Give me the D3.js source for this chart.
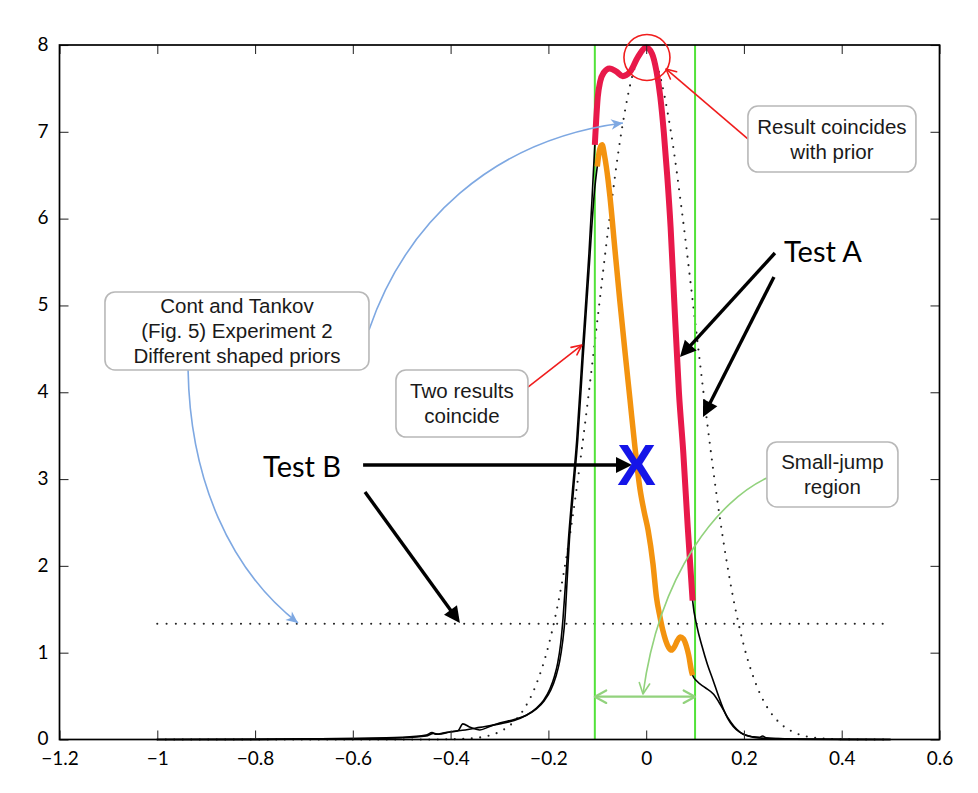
<!DOCTYPE html>
<html>
<head>
<meta charset="utf-8">
<script src="https://cdn.jsdelivr.net/npm/d3@7"></script>
<style>
  body { margin: 0; background: #fff; }
</style>
</head>
<body>
<svg id="chart" width="978" height="793"></svg>
<script>
// ---- axis ticks ----
const xTicks = [-1.2, -1, -0.8, -0.6, -0.4, -0.2, 0, 0.2, 0.4, 0.6];
const xTickLabels = ["−1.2", "−1", "−0.8", "−0.6", "−0.4", "−0.2", "0", "0.2", "0.4", "0.6"];
const yTicks = [0, 1, 2, 3, 4, 5, 6, 7, 8];

// ---- bell-shaped prior (dotted) ----
const priorX = [-1, -0.8, -0.6, -0.5, -0.45, -0.4, -0.375, -0.35, -0.325, -0.3, -0.275, -0.25, -0.225, -0.2,
  -0.175, -0.15, -0.125, -0.1, -0.075, -0.05, -0.025, 0, 0.025, 0.05, 0.075, 0.1, 0.125, 0.15, 0.175,
  0.2, 0.225, 0.25, 0.275, 0.3, 0.325, 0.35, 0.375, 0.4, 0.45, 0.5];
const priorY = [0, 0, 0, 0, 0, 0.003, 0.007, 0.017, 0.04, 0.088, 0.181, 0.349, 0.633, 1.076,
  1.72, 2.58, 3.64, 4.82, 6.0, 7.02, 7.71, 7.95, 7.71, 7.02, 6.0, 4.82, 3.64, 2.58, 1.72,
  1.076, 0.633, 0.349, 0.181, 0.088, 0.04, 0.017, 0.007, 0.003, 0, 0];

// ---- flat prior (dotted) ----
const flatPriorX = [-1, 0.5];
const flatPriorY = [1.333, 1.333];

// ---- result A (highlighted red inside the small-jump region) ----
const resultAX = [-1, -0.8, -0.6, -0.5, -0.45, -0.435, -0.425, -0.4, -0.37, -0.34, -0.3, -0.27, -0.245, -0.225,
  -0.21, -0.197, -0.188, -0.181, -0.175, -0.17, -0.165, -0.159, -0.151, -0.142, -0.13, -0.117, -0.111, -0.105,
  -0.099, -0.094, -0.087, -0.075, -0.06, -0.048, -0.033, -0.017, 0, 0.012, 0.021, 0.029, 0.036, 0.043, 0.05,
  0.057, 0.067, 0.076, 0.085, 0.095,
  0.104, 0.114, 0.125, 0.137, 0.148, 0.158, 0.167, 0.178, 0.19, 0.205, 0.22, 0.232, 0.238, 0.245, 0.27, 0.3, 0.4, 0.5];
const resultAY = [0, 0.002, 0.01, 0.02, 0.04, 0.07, 0.06, 0.09, 0.11, 0.14, 0.18, 0.22, 0.28, 0.36,
  0.45, 0.58, 0.72, 0.88, 1.1, 1.4, 1.8, 2.3, 2.85, 3.45, 4.5, 5.6, 6.2, 6.85,
  7.4, 7.58, 7.68, 7.73, 7.69, 7.64, 7.69, 7.86, 7.97, 7.9, 7.7, 7.4, 7.0, 6.5, 5.9,
  5.1, 4.0, 3.3, 2.45, 1.6,
  1.3, 1.08, 0.87, 0.68, 0.5, 0.35, 0.24, 0.15, 0.09, 0.045, 0.03, 0.025, 0.04, 0.02, 0.01, 0.005, 0.002, 0];

// ---- result B (highlighted orange inside the small-jump region) ----
const resultBX = [-1, -0.8, -0.6, -0.5, -0.45, -0.438, -0.43, -0.41, -0.385, -0.375, -0.36, -0.34, -0.32, -0.3,
  -0.27, -0.245, -0.225, -0.208, -0.195, -0.185, -0.177, -0.171, -0.166, -0.162, -0.157, -0.149, -0.14, -0.129,
  -0.117, -0.106, -0.1, -0.095, -0.09, -0.085, -0.078, -0.074, -0.064, -0.054, -0.043, -0.033, -0.023, -0.013,
  -0.004, 0.004, 0.014, 0.021, 0.028, 0.034, 0.04, 0.046, 0.052, 0.058, 0.064, 0.07, 0.076, 0.082, 0.087, 0.093, 0.095,
  0.104, 0.12, 0.138, 0.152, 0.166, 0.18, 0.193, 0.21, 0.225, 0.242, 0.26, 0.3, 0.4, 0.5];
const resultBY = [0, 0.002, 0.012, 0.025, 0.05, 0.08, 0.06, 0.08, 0.1, 0.18, 0.14, 0.11, 0.15, 0.19,
  0.23, 0.28, 0.35, 0.45, 0.57, 0.72, 0.9, 1.12, 1.4, 1.8, 2.3, 2.85, 3.45, 4.4,
  5.4, 6.3, 6.6, 6.8, 6.85, 6.72, 6.45, 6.25, 5.65, 5.06, 4.45, 3.91, 3.37, 2.9,
  2.62, 2.41, 2.02, 1.64, 1.42, 1.26, 1.14, 1.06, 1.03, 1.07, 1.14, 1.18, 1.16, 1.08, 0.97, 0.78, 0.74,
  0.67, 0.6, 0.52, 0.4, 0.26, 0.15, 0.08, 0.04, 0.02, 0.015, 0.01, 0.004, 0.001, 0];

// ---- small-jump region bounds ----
const smallJump = [-0.105, 0.1];

// ================= drawing =================
const W = 978, H = 793;
const svg = d3.select("#chart");
svg.append("rect").attr("width", W).attr("height", H).attr("fill", "#fff");

const x = d3.scaleLinear().domain([-1.2, 0.6]).range([59.5, 939.5]);
const y = d3.scaleLinear().domain([0, 8]).range([739.5, 45]);

const zip = (xs, ys) => xs.map((v, i) => [v, ys[i]]);
const prior = zip(priorX, priorY);
const flatPrior = zip(flatPriorX, flatPriorY);
const resA = zip(resultAX, resultAY);
const resB = zip(resultBX, resultBY);
const inRegion = d => d[0] >= smallJump[0] - 1e-9 && d[0] <= smallJump[1] + 1e-9;

const line = d3.line().x(d => x(d[0])).y(d => y(d[1])).curve(d3.curveMonotoneX);
const straight = d3.line().x(d => x(d[0])).y(d => y(d[1]));

const plot = svg.append("g");

// dotted priors
plot.append("path").attr("d", line(prior))
  .attr("fill", "none").attr("stroke", "#222").attr("stroke-width", 2.1)
  .attr("stroke-linecap", "round").attr("stroke-dasharray", "0 8.5");
plot.append("path").attr("d", straight(flatPrior))
  .attr("fill", "none").attr("stroke", "#222").attr("stroke-width", 2.1)
  .attr("stroke-linecap", "round").attr("stroke-dasharray", "0 9.3");

// region boundaries
smallJump.forEach(v => {
  plot.append("line")
    .attr("x1", x(v)).attr("x2", x(v)).attr("y1", y(8)).attr("y2", y(0))
    .attr("stroke", "#52e23a").attr("stroke-width", 2);
});

// full results (thin black)
[resA, resB].forEach(r => {
  plot.append("path").attr("d", line(r))
    .attr("fill", "none").attr("stroke", "#000").attr("stroke-width", 1.6)
    .attr("stroke-linejoin", "round");
});

// highlighted parts inside the region
plot.append("path").attr("d", line(resB.filter(inRegion)))
  .attr("fill", "none").attr("stroke", "#f3930f").attr("stroke-width", 5.5)
  .attr("stroke-linecap", "butt").attr("stroke-linejoin", "round");
plot.append("path").attr("d", line(resA.filter(inRegion)))
  .attr("fill", "none").attr("stroke", "#e8194a").attr("stroke-width", 6)
  .attr("stroke-linecap", "butt").attr("stroke-linejoin", "round");

// ---- axes (ticks inward on all four sides) ----
const tickFont = "Lato, 'Open Sans', sans-serif";
function styleAxis(g) {
  g.select(".domain").remove();
  g.selectAll(".tick line").attr("stroke", "#333").attr("stroke-width", 1.1);
  g.selectAll(".tick text").attr("fill", "#000")
    .style("font-family", tickFont).style("font-size", "19px");
}
svg.append("g").attr("transform", `translate(0,${y(0)})`)
  .call(d3.axisBottom(x).tickValues(xTicks).tickFormat((d, i) => xTickLabels[i]).tickSize(-9).tickPadding(12))
  .call(styleAxis);
svg.append("g").attr("transform", `translate(0,${y(8)})`)
  .call(d3.axisTop(x).tickValues(xTicks).tickFormat("").tickSize(-9))
  .call(styleAxis);
const gy = svg.append("g").attr("transform", `translate(${x(-1.2)},0)`)
  .call(d3.axisLeft(y).tickValues(yTicks).tickFormat(d3.format("d")).tickSize(-9).tickPadding(11))
  .call(styleAxis);
gy.selectAll(".tick text").attr("dy", "0.28em");
svg.append("g").attr("transform", `translate(${x(0.6)},0)`)
  .call(d3.axisRight(y).tickValues(yTicks).tickFormat("").tickSize(-9))
  .call(styleAxis);
svg.append("rect")
  .attr("x", x(-1.2)).attr("y", y(8))
  .attr("width", x(0.6) - x(-1.2)).attr("height", y(0) - y(8))
  .attr("fill", "none").attr("stroke", "#000").attr("stroke-width", 1.7);

// ================= annotations =================
const ann = svg.append("g");
const P = d => [x(d[0]), y(d[1])];

function openHead(tip, from, len, half, color, width) {
  const a = Math.atan2(tip[1] - from[1], tip[0] - from[0]);
  const p1 = [tip[0] - len * Math.cos(a - half), tip[1] - len * Math.sin(a - half)];
  const p2 = [tip[0] - len * Math.cos(a + half), tip[1] - len * Math.sin(a + half)];
  ann.append("path")
    .attr("d", `M${p1[0]},${p1[1]}L${tip[0]},${tip[1]}L${p2[0]},${p2[1]}`)
    .attr("fill", "none").attr("stroke", color).attr("stroke-width", width)
    .attr("stroke-linecap", "round").attr("stroke-linejoin", "round");
}

// notched (stealth) head
function stealthHead(tip, from, len, half, color) {
  const a = Math.atan2(tip[1] - from[1], tip[0] - from[0]);
  const p1 = [tip[0] - len * Math.cos(a - half), tip[1] - len * Math.sin(a - half)];
  const p2 = [tip[0] - len * Math.cos(a + half), tip[1] - len * Math.sin(a + half)];
  const n = [tip[0] - 0.65 * len * Math.cos(a), tip[1] - 0.65 * len * Math.sin(a)];
  ann.append("path")
    .attr("d", `M${tip[0]},${tip[1]}L${p1[0]},${p1[1]}L${n[0]},${n[1]}L${p2[0]},${p2[1]}Z`)
    .attr("fill", color);
}

function solidArrow(from, to, color, width, len, halfW) {
  const a = P(from), b = P(to);
  const ang = Math.atan2(b[1] - a[1], b[0] - a[0]);
  const base = [b[0] - len * Math.cos(ang), b[1] - len * Math.sin(ang)];
  ann.append("line").attr("x1", a[0]).attr("y1", a[1]).attr("x2", base[0] + 1.5 * Math.cos(ang)).attr("y2", base[1] + 1.5 * Math.sin(ang))
    .attr("stroke", color).attr("stroke-width", width);
  const nx = -Math.sin(ang), ny = Math.cos(ang);
  ann.append("path")
    .attr("d", `M${b[0]},${b[1]}L${base[0] + nx * halfW},${base[1] + ny * halfW}L${base[0] - nx * halfW},${base[1] - ny * halfW}Z`)
    .attr("fill", color);
}

function curvedConnector(pts, color, width, headStyle) {
  const [p0, p1, p2, p3] = pts.map(P);
  const p = d3.path();
  p.moveTo(p0[0], p0[1]);
  p.bezierCurveTo(p1[0], p1[1], p2[0], p2[1], p3[0], p3[1]);
  ann.append("path").attr("d", p.toString())
    .attr("fill", "none").attr("stroke", color).attr("stroke-width", width);
  if (headStyle === "stealth") stealthHead(p3, p2, 13, 0.42, color);
  else openHead(p3, p2, 12, 0.45, color, width);
}

function straightConnector(from, to, color, width) {
  const a = P(from), b = P(to);
  ann.append("line").attr("x1", a[0]).attr("y1", a[1]).attr("x2", b[0]).attr("y2", b[1])
    .attr("stroke", color).attr("stroke-width", width);
  openHead(b, a, 11, 0.45, color, width);
}

// connectors
const lightBlue = "#7ea8e2", lightGreen = "#92d27d", annRed = "#f01d1d";
curvedConnector([[-0.567, 4.718], [-0.4934, 5.927], [-0.3195, 6.906], [-0.0475, 7.102]], lightBlue, 1.6, "stealth");
curvedConnector([[-0.937, 4.257], [-0.933, 2.989], [-0.8513, 1.952], [-0.7122, 1.342]], lightBlue, 1.6, "stealth");
curvedConnector([[0.2467, 3.012], [0.1509, 2.759], [0.0282, 1.952], [-0.0065, 0.524]], lightGreen, 1.6, "open");
straightConnector([0.2086, 6.917], [0.0405, 7.724], annRed, 1.6);
straightConnector([-0.2418, 4.06], [-0.1317, 4.544], annRed, 1.6);

// double-headed arrow spanning the small-jump region
{
  const a = P([smallJump[0], 0.493]), b = P([smallJump[1], 0.493]);
  ann.append("line").attr("x1", a[0]).attr("y1", a[1]).attr("x2", b[0]).attr("y2", b[1])
    .attr("stroke", lightGreen).attr("stroke-width", 2.2);
  openHead(a, b, 13, 0.5, lightGreen, 2.2);
  openHead(b, a, 13, 0.5, lightGreen, 2.2);
}

// red circle around the peak
{
  const c = P([0.0016, 7.856]);
  ann.append("circle").attr("cx", c[0]).attr("cy", c[1]).attr("r", 23)
    .attr("fill", "none").attr("stroke", annRed).attr("stroke-width", 1.6);
}

// black test arrows
solidArrow([-0.579, 3.162], [-0.029, 3.162], "#000", 3.4, 16, 8);
solidArrow([-0.5751, 2.851], [-0.381, 1.342], "#000", 3.4, 16, 8);
solidArrow([0.2634, 5.604], [0.0691, 4.406], "#000", 3.4, 16, 8);
solidArrow([0.2614, 5.328], [0.1162, 3.715], "#000", 3.4, 16, 8);

// callout boxes
const boxFont = "'Liberation Sans', Arial, sans-serif";
const boxes = [
  { lines: ["Cont and Tankov", "(Fig. 5) Experiment 2", "Different shaped priors"], cx: -0.837, cy: 4.706, w: 264, h: 78 },
  { lines: ["Two results", "coincide"], cx: -0.3768, cy: 3.87, w: 132, h: 67 },
  { lines: ["Result coincides", "with prior"], cx: 0.38, cy: 6.917, w: 168, h: 66 },
  { lines: ["Small-jump", "region"], cx: 0.381, cy: 3.053, w: 131, h: 65 }
];
boxes.forEach(b => {
  const [cx, cy] = P([b.cx, b.cy]);
  ann.append("rect")
    .attr("x", cx - b.w / 2).attr("y", cy - b.h / 2).attr("width", b.w).attr("height", b.h)
    .attr("rx", 10).attr("ry", 10)
    .attr("fill", "#fff").attr("stroke", "#b8b8b8").attr("stroke-width", 1.6);
  const n = b.lines.length;
  b.lines.forEach((t, i) => {
    ann.append("text")
      .attr("x", cx).attr("y", cy + (i - (n - 1) / 2) * 25 + 7)
      .attr("text-anchor", "middle")
      .style("font-family", boxFont).style("font-size", "20.5px").attr("fill", "#1a1a1a")
      .text(t);
  });
});

// test labels
const bigFont = "Lato, 'Open Sans', sans-serif";
[[ "Test A", [0.2819, 5.5] ], [ "Test B", [-0.7836, 3.024] ]].forEach(([t, pos]) => {
  const p = P(pos);
  ann.append("text").attr("x", p[0]).attr("y", p[1])
    .style("font-family", bigFont).style("font-size", "29px").attr("fill", "#000")
    .text(t);
});

// blue X marker on result B
{
  const p = P([-0.0198, 3.17]);
  ann.append("text").attr("x", p[0]).attr("y", p[1] + 20.8)
    .attr("text-anchor", "middle")
    .style("font-family", boxFont).style("font-weight", "bold").style("font-size", "58px")
    .attr("fill", "#1515e8")
    .text("X");
}
</script>
</body>
</html>
